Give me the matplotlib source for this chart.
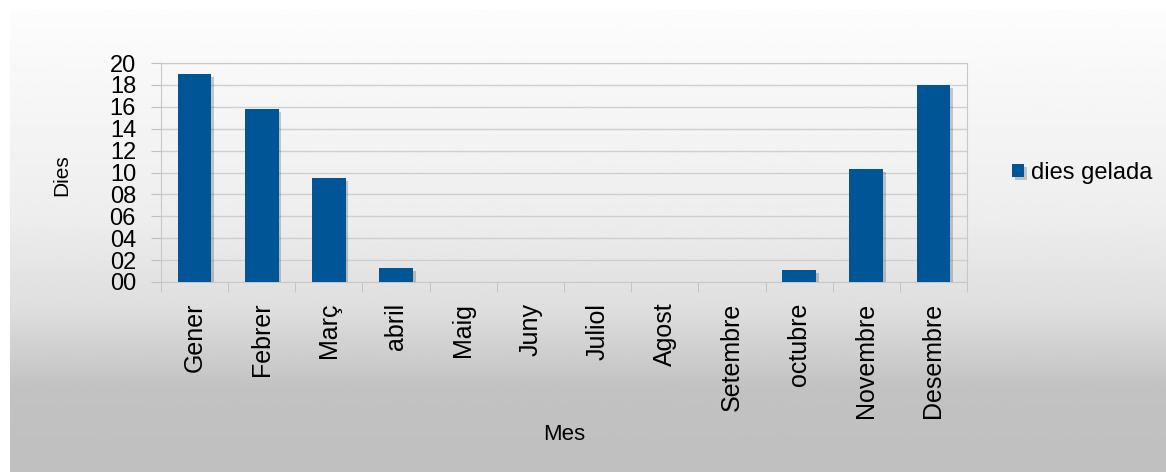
import numpy as np
import matplotlib.pyplot as plt
from matplotlib import patheffects
from matplotlib.ticker import MultipleLocator, FuncFormatter

mesos = ['Gener', 'Febrer', 'Març', 'abril', 'Maig', 'Juny', 'Juliol',
         'Agost', 'Setembre', 'octubre', 'Novembre', 'Desembre']
dies_gelada = [19.0, 15.8, 9.5, 1.3, 0, 0, 0, 0, 0, 1.1, 10.3, 18.0]

plt.rcParams['font.family'] = ['Liberation Sans', 'DejaVu Sans']

W, H = 1166, 472
fig = plt.figure(figsize=(W / 100, H / 100), dpi=100)

# gradient panel behind everything
bg = fig.add_axes([10 / W, 0, 1 - 10 / W, 1 - 10 / H])
bg.set_axis_off()
stops_y = np.array([0.0, 0.45, 0.65, 0.82, 1.0])
stops_c = np.array([0.99, 0.93, 0.87, 0.76, 0.75])
yy = np.linspace(0, 1, 300)
col = np.interp(yy, stops_y, stops_c)
bg.imshow(col[:, None], aspect='auto', cmap='gray', vmin=0, vmax=1,
          extent=[0, 1, 1, 0])
bg.set_xlim(0, 1)
bg.set_ylim(1, 0)

ax = fig.add_axes([161 / W, 1 - 282 / H, 806 / W, 219 / H])
ax.patch.set_alpha(0)

x = np.arange(len(mesos))
bars = ax.bar(x, dies_gelada, width=0.5, color='#005596', zorder=3,
              label='dies gelada')
for b in bars:
    b.set_path_effects([patheffects.SimplePatchShadow(offset=(2, -2), alpha=0.25,
                                                      shadow_rgbFace='#333333'),
                        patheffects.Normal()])

ax.set_xlim(-0.5, len(mesos) - 0.5)
ax.set_ylim(0, 20)
ax.yaxis.set_major_locator(MultipleLocator(2))
ax.yaxis.set_major_formatter(FuncFormatter(lambda v, p: '%02d' % v))
ax.grid(axis='y', color='#cfcfcf', linewidth=1, zorder=0)
ax.set_axisbelow(True)

ax.set_xticks(x)
ax.set_xticklabels(mesos, rotation=90, fontsize=18)
ax.set_xticks(np.arange(-0.5, len(mesos)), minor=True)
ax.tick_params(axis='x', which='major', length=0, pad=15)
ax.tick_params(axis='x', which='minor', length=7, color='#bfbfbf')
ax.tick_params(axis='y', length=7, color='#bfbfbf', labelsize=17, pad=11)
for s in ax.spines.values():
    s.set_color('#c8c8c8')

fig.text(62 / W, 1 - 175 / H, 'Dies', rotation=90, fontsize=15,
         ha='center', va='center')
fig.text(564 / W, 1 - 435 / H, 'Mes', fontsize=16, ha='center', va='center')

ax.legend(loc='center left', bbox_to_anchor=(1012 / W, 1 - 173 / H),
          bbox_transform=fig.transFigure, frameon=False, borderpad=0,
          borderaxespad=0, fontsize=17, handlelength=0.5, handleheight=0.5,
          handletextpad=0.3)

fig.savefig('out.png', dpi=100)
